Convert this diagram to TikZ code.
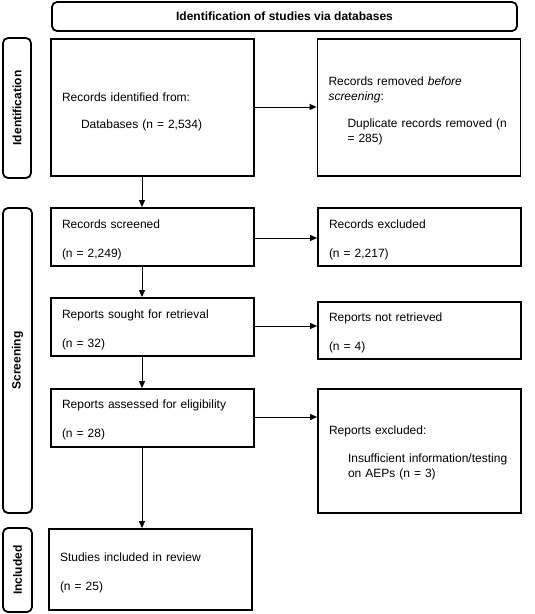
\documentclass[tikz,border=0pt]{standalone}
\usepackage{fontspec}
\setmainfont{Liberation Sans}
\usetikzlibrary{arrows.meta}
\begin{document}
\begin{tikzpicture}[x=1pt,y=-1pt,
  every node/.style={font=\fontsize{12}{15}\selectfont},
  box/.style={draw,line width=1.8pt,text width=#1-22pt,inner xsep=11pt,inner ysep=0pt,align=left,anchor=center},
  box/.default=203pt,
  side/.style={draw,line width=1.8pt,rounded corners=5pt,inner sep=0pt,font=\fontsize{12}{15}\selectfont\bfseries},
  arr/.style={line width=1pt,-{Triangle[length=7pt,width=6pt]}}]
\useasboundingbox (0,0) rectangle (535,614);
% banner and side labels
\node[side,minimum width=465pt,minimum height=29pt] (banner) at (284.5,16.5) {Identification of studies via databases};
\node[side,minimum width=140pt,minimum height=28pt,rotate=90] (lid) at (17,108) {Identification};
\node[side,minimum width=305pt,minimum height=29pt,rotate=90] (lscr) at (17.5,360.5) {Screening};
\node[side,minimum width=84pt,minimum height=29pt,rotate=90] (linc) at (17.5,570) {Included};
% boxes
\node[box,minimum height=137pt] (id) at (152.5,107.5) {\rule{0pt}{18pt}Records identified from:\\[12pt]\hspace*{19pt}Databases (n = 2,534)};
\node[box,minimum height=137pt] (rem) at (419,107.5) {\rule{0pt}{15pt}Records removed \textit{before}\\\textit{screening}:\\[12pt]\hspace*{19pt}Duplicate records removed (n\\\hspace*{19pt}= 285)};
\node[box,minimum height=58pt] (scr) at (152.5,237) {\rule{0pt}{15pt}Records screened\\[14pt](n = 2,249)};
\node[box,minimum height=58pt] (rex) at (419.5,237) {\rule{0pt}{15pt}Records excluded\\[14pt](n = 2,217)};
\node[box,minimum height=58pt] (sou) at (152.5,327) {\rule{0pt}{15pt}Reports sought for retrieval\\[14pt](n = 32)};
\node[box,minimum height=57pt] (nr) at (419.5,330.5) {\rule{0pt}{13pt}Reports not retrieved\\[14pt](n = 4)};
\node[box,minimum height=58pt] (ass) at (152.5,418) {\rule{0pt}{13pt}Reports assessed for eligibility\\[14pt](n = 28)};
\node[box,minimum height=124pt] (rpx) at (419.5,451) {\rule{0pt}{13pt}Reports excluded:\\[13pt]\hspace*{19pt}Insufficient information/testing\\\hspace*{19pt}on AEPs (n = 3)};
\node[box,minimum height=81pt] (stu) at (150.5,569.5) {\rule{0pt}{15pt}Studies included in review\\[14pt](n = 25)};
% arrows
\coordinate (ax) at (142,0);
\draw[arr] (id.south -| ax) -- (scr.north -| ax);
\draw[arr] (scr.south -| ax) -- (sou.north -| ax);
\draw[arr] (sou.south -| ax) -- (ass.north -| ax);
\draw[arr] (ass.south -| ax) -- (stu.north -| ax);
\draw[arr] ([yshift=0.5pt]id.east) -- ([yshift=0.5pt]id.east -| rem.west);
\draw[arr] ([yshift=-1pt]scr.east) -- ([yshift=-1pt]scr.east -| rex.west);
\draw[arr] ([yshift=1pt]sou.east) -- ([yshift=1pt]sou.east -| nr.west);
\draw[arr] ([yshift=1pt]ass.east) -- ([yshift=1pt]ass.east -| rpx.west);
\end{tikzpicture}
\end{document}
